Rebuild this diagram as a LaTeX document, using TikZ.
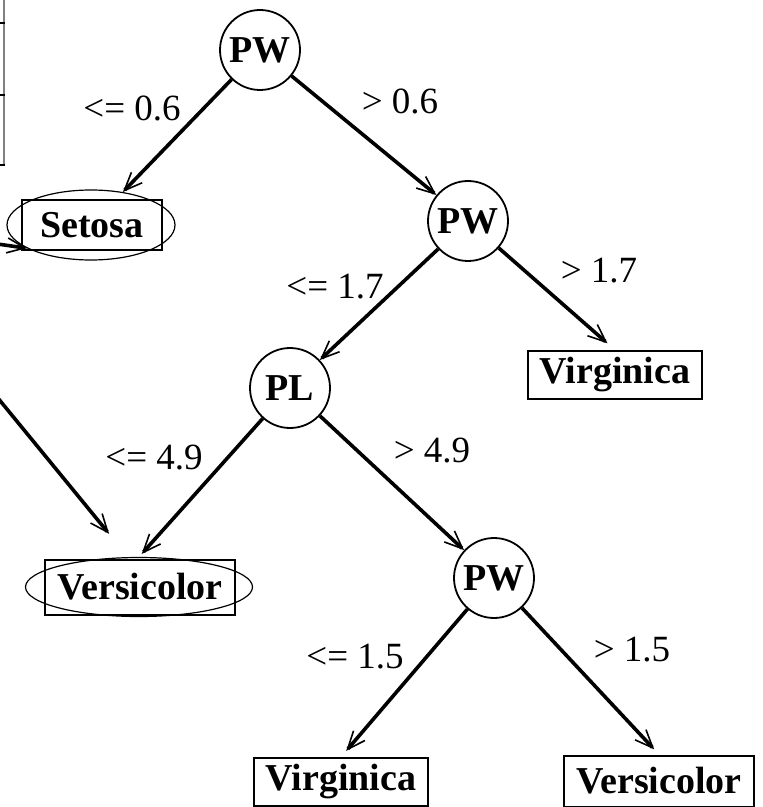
\documentclass[tikz,border=0pt]{standalone}
\usepackage{fontspec}
\setmainfont{Liberation Serif}
\usetikzlibrary{arrows.meta,shapes.geometric}

\begin{document}
\begin{tikzpicture}[x=0.5pt,y=-0.5pt,
  every node/.style={font=\fontsize{18.5}{20}\selectfont},
  test/.style={draw,circle,line width=0.9pt,minimum size=40pt,inner sep=0pt,font=\fontsize{19}{20}\selectfont\bfseries},
  leaf/.style={draw,line width=1pt,minimum height=23pt,inner xsep=6pt,font=\fontsize{19}{20}\selectfont\bfseries},
  ring/.style={draw,ellipse,line width=0.6pt,inner sep=0pt},
  branch/.style={line width=1.8pt,-{Straight Barb[length=9pt,width=7.5pt,line width=0.8pt]}}]
  \useasboundingbox (0,0) rectangle (763,807);
  \clip (0,0) rectangle (763,807);
  % edge of the table on the left
  \draw[gray,line width=1pt] (4,0) -- (4,165);
  \foreach \y in {23,95,165} \draw[line width=1.2pt] (-4,\y) -- (5,\y);
  % tests
  \node[test] (pw1) at (260,50) {PW};
  \node[test] (pw2) at (468,221) {PW};
  \node[test] (pl) at (290,388) {PL};
  \node[test] (pw3) at (494,578) {PW};
  % leaves
  \node[ring,minimum width=84pt,minimum height=35pt] (setosaring) at (91,225) {};
  \node[leaf,minimum width=70pt,minimum height=25pt] (setosa) at (92,225) {Setosa};
  \node[ring,minimum width=113.5pt,minimum height=29.5pt] (versiring) at (139,587) {};
  \node[leaf,minimum height=27.5pt] (versi1) at (140,587) {Versicolor};
  \node[leaf,minimum height=22pt] (virg1) at (615,375) {Virginica};
  \node[leaf,minimum height=24pt] (virg2) at (341,782) {Virginica};
  \node[leaf,minimum height=25.5pt] (versi2) at (659,781) {Versicolor};
  % branches
  \draw[branch] (pw1) -- (setosaring);
  \draw[branch] (pw1) -- (pw2);
  \draw[branch] (pw2) -- (pl);
  \draw[branch,shorten >=5pt] (pw2) -- (virg1.north);
  \draw[branch,shorten >=2pt] (pl) -- (versiring.north);
  \draw[branch] (pl) -- (pw3);
  \draw[branch,shorten >=4pt] (pw3) -- (virg2.north);
  \draw[branch,shorten >=3.5pt] (pw3) -- (versi2.north);
  \node (l1) at (132,108) {<= 0.6};
  \node (l2) at (400,101) {> 0.6};
  \node (l3) at (335,287) {<= 1.7};
  \node (l4) at (599,271) {> 1.7};
  \node (l5) at (154,458) {<= 4.9};
  \node (l6) at (432,451) {> 4.9};
  \node (l7) at (355,657) {<= 1.5};
  \node (l8) at (632,650) {> 1.5};
  % arrows coming in from the left
  \coordinate (in1) at (-30,240);
  \coordinate (in2) at (-30,364);
  \draw[branch] (in1) -- (setosaring.200);
  \draw[branch,shorten >=15pt] (in2) -- (versiring.110);
\end{tikzpicture}
\end{document}
